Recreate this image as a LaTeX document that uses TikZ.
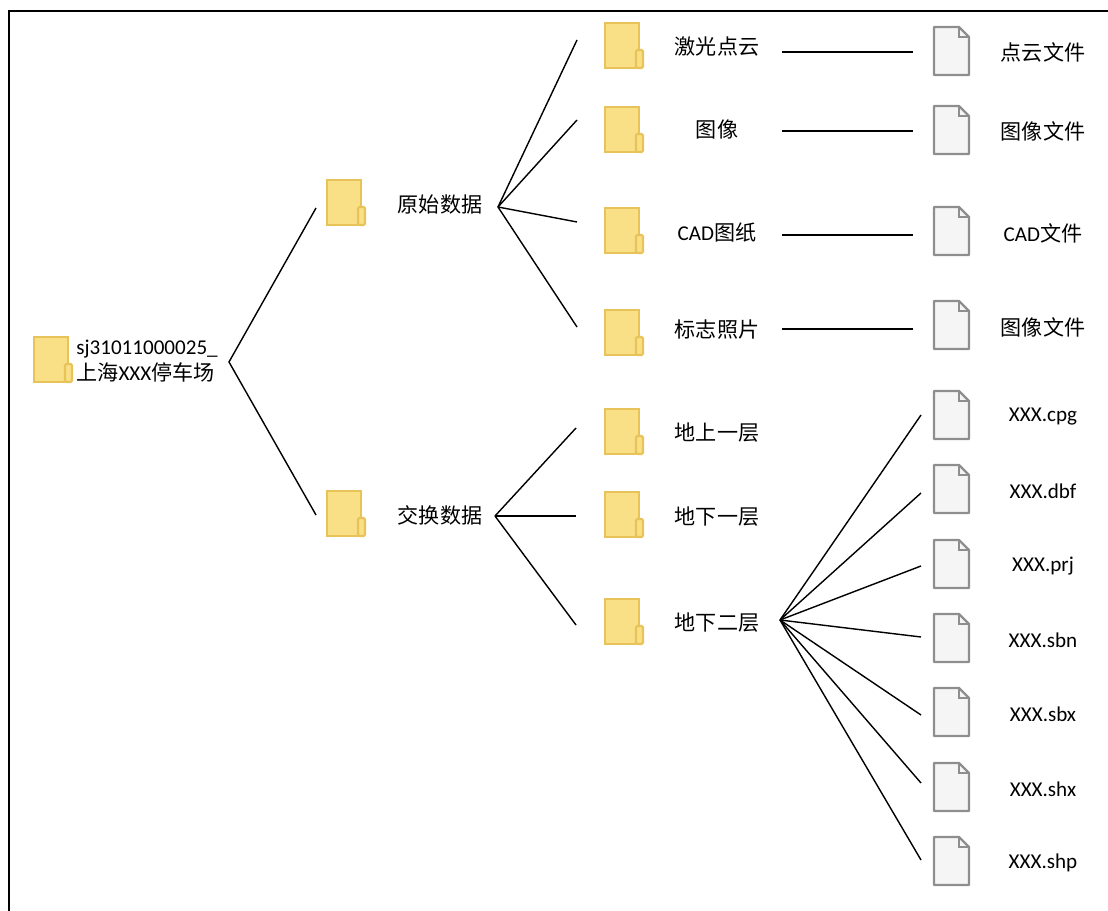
\documentclass[tikz,border=0pt]{standalone}
\usepackage{fontspec}
\setmainfont{Carlito}
\newfontfamily\cjk{Noto Sans CJK SC}

\definecolor{folderfill}{HTML}{F9DF86}
\definecolor{folderedge}{HTML}{E8C35A}
\definecolor{filefill}{HTML}{F5F5F5}
\definecolor{fileedge}{HTML}{8E8E8E}

\tikzset{
	folder/.pic={
		\draw [fill=folderfill, draw=folderedge, line width=1.2pt] (-19,-23) rectangle (15,22);
		\draw [fill=folderfill, draw=folderedge, line width=1.2pt, rounded corners=0.8pt] (12,22) -- (12,4) -- (19,4) -- (19,22) -- cycle;
	},
	file/.pic={
		\draw [fill=filefill, draw=fileedge, line width=1.3pt, line join=round] (-17,-24) -- (8,-24) -- (18,-14) -- (18,24) -- (-17,24) -- cycle;
		\draw [fileedge, line width=1pt] (8,-24) -- (8,-14) -- (18,-14);
	},
	lbl/.style={font=\fontsize{12pt}{14.5pt}\selectfont, inner sep=0pt},
	branch/.style={line width=0.8pt}
}

\begin{document}
\begin{tikzpicture}[x=0.02cm, y=-0.02cm]

			\useasboundingbox (0,0) rectangle (1108,911);
			\draw [line width=1.3pt] (9,911) -- (9,11) -- (1108,11);

			% root
			\pic at (53,360) {folder};
			\node [lbl, anchor=west, align=left] (root) at (76,361) {sj31011000025\_\\{\cjk 上海}XXX{\cjk 停车场}};

			% first level
			\pic at (346,203) {folder};
			\pic at (346,514) {folder};
			\node [lbl] (ysdata) at (440,205) {\cjk 原始数据};
			\node [lbl] (jhdata) at (440,515) {\cjk 交换数据};

			\coordinate (b0) at (229,362);
			\coordinate (e1) at (316,208);
			\coordinate (e2) at (316,515);
			\draw [branch] (e1) -- (b0) -- (e2);

			% raw data
			\foreach \y in {46,130,231,333} {\pic at (624,\y) {folder};}
			\node [lbl] (jg) at (717,47) {\cjk 激光点云};
			\node [lbl] (tx) at (717,130) {\cjk 图像};
			\node [lbl] (cad) at (717,233) {CAD{\cjk 图纸}};
			\node [lbl] (bz) at (717,330) {\cjk 标志照片};

			\coordinate (b1) at (498,207);
			\foreach \y in {40,120,222,327} {\draw [branch] (b1) -- (577,\y);}

			\foreach \y in {51,130,231,325} {\pic at (951,\y) {file};}
			\node [lbl] (jgf) at (1043,52) {\cjk 点云文件};
			\node [lbl] (txf) at (1043,131) {\cjk 图像文件};
			\node [lbl] (cadf) at (1043,233) {CAD{\cjk 文件}};
			\node [lbl] (bzf) at (1043,327) {\cjk 图像文件};

			\foreach \y in {52,131,235,329} {\draw [branch] (782,\y) -- (913,\y);}

			% exchange data
			\foreach \y in {432,515,622} {\pic at (624,\y) {folder};}
			\node [lbl] (ds1) at (717,433) {\cjk 地上一层};
			\node [lbl] (dx1) at (717,517) {\cjk 地下一层};
			\node [lbl] (dx2) at (717,623) {\cjk 地下二层};

			\coordinate (b2) at (495,516);
			\foreach \y in {428,516,625} {\draw [branch] (b2) -- (576,\y);}

			% shape files
			\coordinate (b3) at (780,620);
			\foreach \y/\e/\t in {415/415/cpg, 489/493/dbf, 564/566/prj, 638/637/sbn, 712/715/sbx, 787/783/shx, 861/860/shp} {
				\pic at (951,\y) {file};
				\draw [branch] (b3) -- (921,\e);
				\node [lbl] (\t) at (1043,\y+2) {XXX.\t};
			}
		\end{tikzpicture}
\end{document}
